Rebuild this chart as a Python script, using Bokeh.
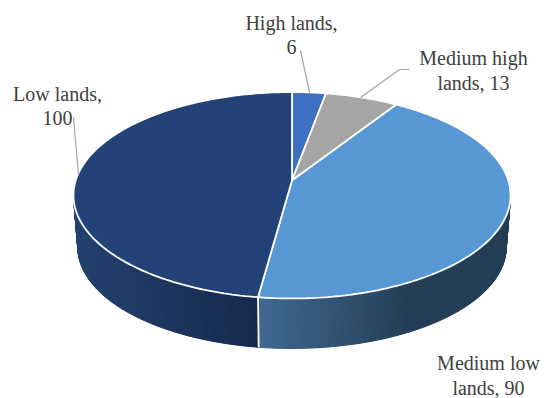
import math
from bokeh.plotting import figure
from bokeh.embed import file_html
from bokeh.resources import INLINE
from bokeh.core.properties import value

categories = ["High lands", "Medium high lands", "Medium low lands", "Low lands"]
values = [6, 13, 90, 100]
top_colors = ["#3f6fc1", "#a5a5a5", "#5797d3", "#234278"]
# wall gradient (left colour, right colour, share of width it takes) per slice
wall_colors = [None, None, ("#406891", "#233e55", 0.6), ("#24426f", "#16284d", 1.0)]
label_lines = [["High lands,", "6"], ["Medium high", "lands, 13"], ["Medium low", "lands, 90"], ["Low lands,", "100"]]
label_x = [291, 473, 488, 57]
label_y = [[22, 46], [57, 82], [362, 387], [93, 117]]
leaders = [[(300, 50), (309, 92)], [(409, 69), (399, 69), (360, 97)], None, [(73, 117), (78, 174)]]

CX, K = 291.5, 1 / 7
TOP = dict(b=216.3, a=101.1, y0=180.0)
BOT = dict(b=212.0, a=99.0, y0=232.5)


def project(theta, disc):
    u, v = math.sin(theta), math.cos(theta)
    d = 1 + K * v
    return CX + disc["b"] * u / d, disc["y0"] - disc["a"] * v / d


def mix(c1, c2, t):
    a = [int(c1[i:i + 2], 16) for i in (1, 3, 5)]
    b = [int(c2[i:i + 2], 16) for i in (1, 3, 5)]
    return "#%02x%02x%02x" % tuple(round(x + (y - x) * t) for x, y in zip(a, b))


p = figure(width=550, height=398, x_range=(0, 550), y_range=(398, 0),
           output_backend="svg", toolbar_location=None, min_border=0)
p.axis.visible = False
p.grid.visible = False
p.outline_line_color = None
p.background_fill_color = None
p.border_fill_color = None

total = sum(values)
bounds = [0.0]
for val in values:
    bounds.append(bounds[-1] + 2 * math.pi * val / total)

# side walls, front half of the disc only
qx, qy, qc = [], [], []
for i, cols in enumerate(wall_colors):
    if cols is None:
        continue
    a0 = max(bounds[i], math.pi / 2)
    a1 = min(bounds[i + 1], 3 * math.pi / 2)
    n = max(2, int(math.degrees(a1 - a0)))
    ts = [a0 + (a1 - a0) * j / n for j in range(n + 1)]
    xs = [project(t, TOP)[0] for t in ts]
    lo, hi = min(xs), max(xs)
    for j in range(n):
        t0, t1 = ts[j], ts[j + 1]
        pts = [project(t0, TOP), project(t1, TOP), project(t1, BOT), project(t0, BOT)]
        qx.append([q[0] for q in pts])
        qy.append([q[1] for q in pts])
        frac = ((xs[j] + xs[j + 1]) / 2 - lo) / (hi - lo)
        qc.append(mix(cols[0], cols[1], min(1.0, frac / cols[2])))
p.patches(qx, qy, fill_color=qc, line_color=qc, line_width=1)

# seam between the two visible walls
seam = bounds[3]
p.line([project(seam, TOP)[0], project(seam, BOT)[0]],
       [project(seam, TOP)[1], project(seam, BOT)[1]], line_color="white", line_width=1.8)

# top face
for i in range(len(values)):
    n = max(4, int(math.degrees(bounds[i + 1] - bounds[i])))
    pts = [project(bounds[i] + (bounds[i + 1] - bounds[i]) * j / n, TOP) for j in range(n + 1)]
    xs = [CX] + [q[0] for q in pts]
    ys = [TOP["y0"]] + [q[1] for q in pts]
    p.patch(xs, ys, fill_color=top_colors[i], line_color="white", line_width=1.8)

# leader lines
for seg in leaders:
    if seg:
        p.line([q[0] for q in seg], [q[1] for q in seg], line_color="#a5a5a5", line_width=1.2)

# labels
tx, ty, tt = [], [], []
for lines, x, ys in zip(label_lines, label_x, label_y):
    for line, y in zip(lines, ys):
        tx.append(x); ty.append(y); tt.append(line)
p.text(tx, ty, text=tt, text_font=value("Liberation Serif"), text_font_size="20px",
       text_color="#404040", text_align="center", text_baseline="alphabetic")

open("out.html", "w").write(file_html(p, INLINE))
